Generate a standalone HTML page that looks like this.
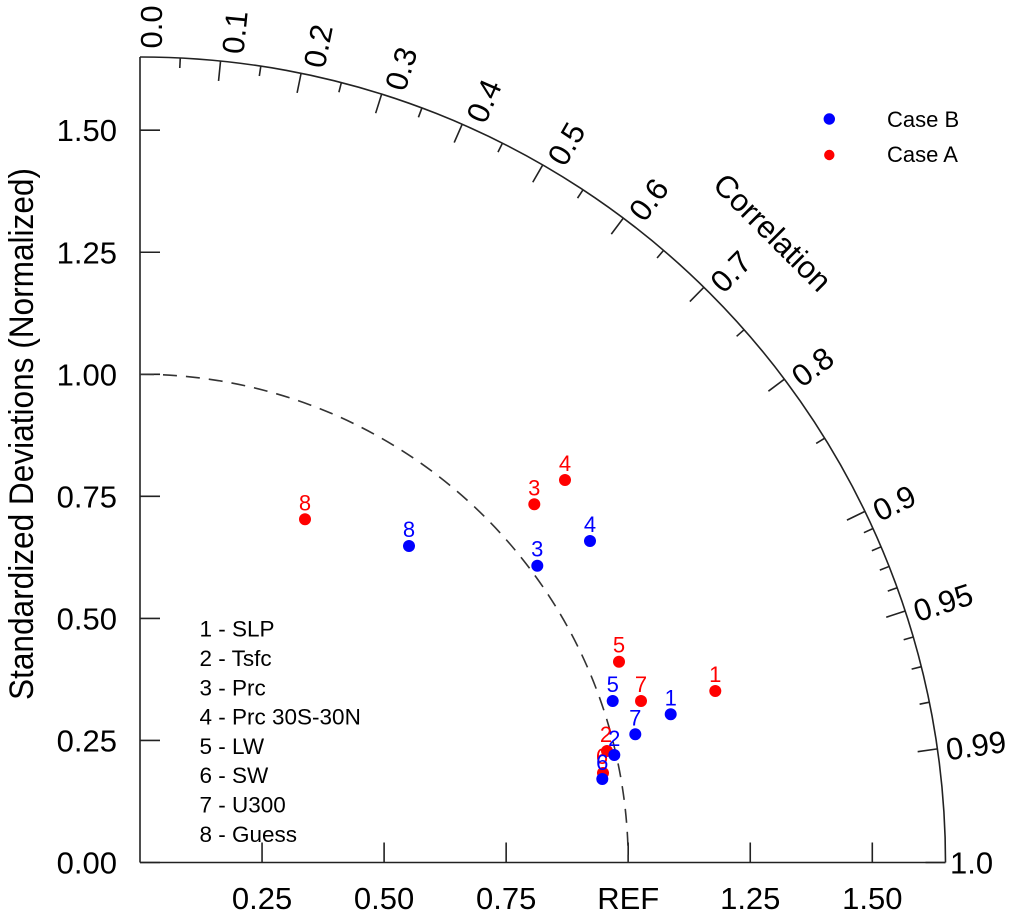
<!DOCTYPE html>
<html>
<head>
<meta charset="utf-8">
<style>
  html, body { margin: 0; padding: 0; background: #ffffff; }
  svg { display: block; }
  text { font-family: "Liberation Sans", "DejaVu Sans", sans-serif; fill: #000; }
</style>
</head>
<body>
<svg width="1016" height="918" viewBox="0 0 1016 918" xmlns="http://www.w3.org/2000/svg">
  <rect x="0" y="0" width="1016" height="918" fill="#ffffff"/>

  <!-- Axes -->
  <g stroke="#222" stroke-width="1.6" fill="none">
    <line x1="140" y1="57" x2="140" y2="862.5"/>
    <line x1="140" y1="862.5" x2="945.5" y2="862.5"/>
    <path d="M140,57 A805.5,805.5 0 0 1 945.5,862.5"/>
    <!-- y ticks -->
    <line x1="140" y1="862.5" x2="160" y2="862.5"/>
    <line x1="140" y1="740.45" x2="160" y2="740.45"/>
    <line x1="140" y1="618.4" x2="160" y2="618.4"/>
    <line x1="140" y1="496.35" x2="160" y2="496.35"/>
    <line x1="140" y1="374.3" x2="160" y2="374.3"/>
    <line x1="140" y1="252.25" x2="160" y2="252.25"/>
    <line x1="140" y1="130.2" x2="160" y2="130.2"/>
    <!-- x ticks -->
    <line x1="262.05" y1="862.5" x2="262.05" y2="842.5"/>
    <line x1="384.1" y1="862.5" x2="384.1" y2="842.5"/>
    <line x1="506.15" y1="862.5" x2="506.15" y2="842.5"/>
    <line x1="628.2" y1="862.5" x2="628.2" y2="842.5"/>
    <line x1="750.25" y1="862.5" x2="750.25" y2="842.5"/>
    <line x1="872.3" y1="862.5" x2="872.3" y2="842.5"/>
  </g>

  <!-- Correlation ticks -->
  <g transform="translate(140,862.5)" stroke="#222" stroke-width="1.6">
    <!-- major -->
    <line x1="785.5" y1="0" x2="805.5" y2="0" transform="rotate(-84.261)"/>
    <line x1="785.5" y1="0" x2="805.5" y2="0" transform="rotate(-78.463)"/>
    <line x1="785.5" y1="0" x2="805.5" y2="0" transform="rotate(-72.542)"/>
    <line x1="785.5" y1="0" x2="805.5" y2="0" transform="rotate(-66.422)"/>
    <line x1="785.5" y1="0" x2="805.5" y2="0" transform="rotate(-60)"/>
    <line x1="785.5" y1="0" x2="805.5" y2="0" transform="rotate(-53.130)"/>
    <line x1="785.5" y1="0" x2="805.5" y2="0" transform="rotate(-45.573)"/>
    <line x1="785.5" y1="0" x2="805.5" y2="0" transform="rotate(-36.870)"/>
    <line x1="785.5" y1="0" x2="805.5" y2="0" transform="rotate(-25.842)"/>
    <line x1="785.5" y1="0" x2="805.5" y2="0" transform="rotate(-18.195)"/>
    <line x1="785.5" y1="0" x2="805.5" y2="0" transform="rotate(-8.110)"/>
    <line x1="785.5" y1="0" x2="805.5" y2="0"/>
    <!-- minor -->
    <line x1="795.5" y1="0" x2="805.5" y2="0" transform="rotate(-87.134)"/>
    <line x1="795.5" y1="0" x2="805.5" y2="0" transform="rotate(-81.373)"/>
    <line x1="795.5" y1="0" x2="805.5" y2="0" transform="rotate(-75.522)"/>
    <line x1="795.5" y1="0" x2="805.5" y2="0" transform="rotate(-69.513)"/>
    <line x1="795.5" y1="0" x2="805.5" y2="0" transform="rotate(-63.256)"/>
    <line x1="795.5" y1="0" x2="805.5" y2="0" transform="rotate(-56.633)"/>
    <line x1="795.5" y1="0" x2="805.5" y2="0" transform="rotate(-49.458)"/>
    <line x1="795.5" y1="0" x2="805.5" y2="0" transform="rotate(-41.410)"/>
    <line x1="795.5" y1="0" x2="805.5" y2="0" transform="rotate(-31.788)"/>
    <line x1="795.5" y1="0" x2="805.5" y2="0" transform="rotate(-24.495)"/>
    <line x1="795.5" y1="0" x2="805.5" y2="0" transform="rotate(-23.074)"/>
    <line x1="795.5" y1="0" x2="805.5" y2="0" transform="rotate(-21.565)"/>
    <line x1="795.5" y1="0" x2="805.5" y2="0" transform="rotate(-19.948)"/>
    <line x1="795.5" y1="0" x2="805.5" y2="0" transform="rotate(-16.260)"/>
    <line x1="795.5" y1="0" x2="805.5" y2="0" transform="rotate(-14.070)"/>
    <line x1="795.5" y1="0" x2="805.5" y2="0" transform="rotate(-11.478)"/>
  </g>

  <!-- Correlation labels -->
  <g transform="translate(140,862.5)" font-size="31">
    <text transform="rotate(-90) translate(814 22.2)">0.0</text>
    <text transform="rotate(-84.261) translate(814 22.1)">0.1</text>
    <text transform="rotate(-78.463) translate(814 22.0)">0.2</text>
    <text transform="rotate(-72.542) translate(814 21.7)">0.3</text>
    <text transform="rotate(-66.422) translate(814 21.3)">0.4</text>
    <text transform="rotate(-60) translate(814 20.7)">0.5</text>
    <text transform="rotate(-53.130) translate(814 20.0)">0.6</text>
    <text transform="rotate(-45.573) translate(814 19.1)">0.7</text>
    <text transform="rotate(-36.870) translate(814 17.8)">0.8</text>
    <text transform="rotate(-25.842) translate(814 16.0)">0.9</text>
    <text transform="rotate(-18.195) translate(814 14.6)">0.95</text>
    <text transform="rotate(-8.110) translate(814 12.8)">0.99</text>
    <text transform="translate(810 11.2)">1.0</text>
  </g>

  <!-- Correlation title -->
  <text transform="translate(765,240) rotate(45)" text-anchor="middle" font-size="31">Correlation</text>

  <!-- Y tick labels -->
  <g font-size="31" text-anchor="end">
    <text x="117" y="873.5">0.00</text>
    <text x="117" y="751.5">0.25</text>
    <text x="117" y="629.4">0.50</text>
    <text x="117" y="507.4">0.75</text>
    <text x="117" y="385.3">1.00</text>
    <text x="117" y="263.3">1.25</text>
    <text x="117" y="141.2">1.50</text>
  </g>

  <!-- X tick labels -->
  <g font-size="31" text-anchor="middle">
    <text x="262.05" y="909">0.25</text>
    <text x="384.1" y="909">0.50</text>
    <text x="506.15" y="909">0.75</text>
    <text x="628.2" y="909">REF</text>
    <text x="750.25" y="909">1.25</text>
    <text x="872.3" y="909">1.50</text>
  </g>

  <!-- Y axis title -->
  <text transform="translate(33,434) rotate(-90)" text-anchor="middle" font-size="34" textLength="532" lengthAdjust="spacingAndGlyphs">Standardized Deviations (Normalized)</text>

  <!-- Reference dashed arc -->
  <path d="M140,374.3 A488.2,488.2 0 0 1 628.2,862.5" fill="none" stroke="#333" stroke-width="1.6" stroke-dasharray="14,9"/>

  <!-- Case A (red) -->
  <g fill="#ff0000">
    <circle cx="715.3" cy="691" r="6"/>
    <circle cx="607" cy="751" r="6"/>
    <circle cx="534.3" cy="504.3" r="6"/>
    <circle cx="565" cy="480" r="6"/>
    <circle cx="619" cy="661.7" r="6"/>
    <circle cx="603" cy="773" r="6"/>
    <circle cx="641" cy="701" r="6"/>
    <circle cx="305" cy="519.3" r="6"/>
  </g>
  <g font-size="22" text-anchor="middle">
    <text x="715.3" y="682" style="fill:#ff0000">1</text>
    <text x="606" y="742" style="fill:#ff0000">2</text>
    <text x="534.3" y="495.3" style="fill:#ff0000">3</text>
    <text x="565" y="471" style="fill:#ff0000">4</text>
    <text x="619" y="652.7" style="fill:#ff0000">5</text>
    <text x="602" y="764" style="fill:#ff0000">6</text>
    <text x="641" y="692" style="fill:#ff0000">7</text>
    <text x="305" y="510.3" style="fill:#ff0000">8</text>
  </g>

  <!-- Case B (blue) -->
  <g fill="#0000ff">
    <circle cx="670.7" cy="714.3" r="6"/>
    <circle cx="614.3" cy="755" r="6"/>
    <circle cx="537.3" cy="565.7" r="6"/>
    <circle cx="590" cy="541" r="6"/>
    <circle cx="612.7" cy="701" r="6"/>
    <circle cx="602.3" cy="779" r="6"/>
    <circle cx="635.3" cy="734.3" r="6"/>
    <circle cx="409" cy="546" r="6"/>
  </g>
  <g font-size="22" text-anchor="middle">
    <text x="670.7" y="705.3" style="fill:#0000ff">1</text>
    <text x="614.3" y="746" style="fill:#0000ff">2</text>
    <text x="537.3" y="556.7" style="fill:#0000ff">3</text>
    <text x="590" y="532" style="fill:#0000ff">4</text>
    <text x="612.7" y="692" style="fill:#0000ff">5</text>
    <text x="602.3" y="770" style="fill:#0000ff">6</text>
    <text x="635.3" y="725.3" style="fill:#0000ff">7</text>
    <text x="409" y="537" style="fill:#0000ff">8</text>
  </g>

  <!-- Legend (top right) -->
  <circle cx="829.3" cy="119" r="5.7" fill="#0000ff"/>
  <circle cx="829.3" cy="155" r="5.2" fill="#ff0000"/>
  <g font-size="22">
    <text x="887" y="127">Case B</text>
    <text x="887" y="162">Case A</text>
  </g>

  <!-- Variable list -->
  <g font-size="22.5">
    <text x="199.5" y="636.7">1 - SLP</text>
    <text x="199.5" y="666">2 - Tsfc</text>
    <text x="199.5" y="695.3">3 - Prc</text>
    <text x="199.5" y="724.6">4 - Prc 30S-30N</text>
    <text x="199.5" y="753.9">5 - LW</text>
    <text x="199.5" y="783.2">6 - SW</text>
    <text x="199.5" y="812.5">7 - U300</text>
    <text x="199.5" y="841.8">8 - Guess</text>
  </g>
</svg>
</body>
</html>
